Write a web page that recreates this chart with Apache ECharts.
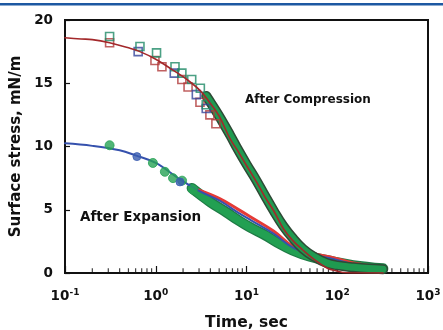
<!DOCTYPE html>
<html><head><meta charset="utf-8">
<script src="https://cdn.jsdelivr.net/npm/echarts@6/dist/echarts.min.js"></script>
<style>html,body{margin:0;padding:0;background:#fff}#c{width:443px;height:330px}</style>
</head><body><div id="c"></div>
<script>
// ---- data ----
const xMajorTicks = [0.1, 1, 10, 100, 1000];
const xTickExponents = ['-1','0','1','2','3'];
const xMinorTicks = [0.2,0.3,0.4,0.5,0.6,0.7,0.8,0.9,2,3,4,5,6,7,8,9,20,30,40,50,60,70,80,90,200,300,400,500,600,700,800,900];
const yTicks = [0, 5, 10, 15, 20];

// After compression: fitted curve
const compFit = [[0.1,18.6],[0.15,18.5],[0.2,18.45],[0.31,18.2],[0.5,17.8],[0.67,17.5],[1.0,16.9],[1.5,16.1],[2.2,15.3],[3.1,14.4],[4.0,13.4],[5.0,12.4],[6.6,10.6],[8.1,9.6],[10,8.5],[12.9,7.2],[16,6.0],[20,4.9],[25.5,3.5],[32,2.6],[42,1.8],[55,1.1],[77,0.4],[100,0.15],[126,0.02],[180,0],[320,0]];
// After compression: dense measured band
const compBand = [[3.6,14.0],[4,13.5],[5,12.4],[6.6,10.9],[8,9.8],[10,8.6],[12.9,7.3],[16,6.1],[20,4.9],[25.5,3.7],[32,2.8],[42,1.9],[55,1.3],[76,0.8],[100,0.6],[150,0.45],[220,0.35],[320,0.3]];
// After compression: open squares (three runs)
const compRed = [[0.31,18.2],[0.98,16.8],[1.17,16.3],[1.94,15.3],[2.27,14.7],[3.07,13.5],[3.95,12.5],[4.6,11.8]];
const compBlue = [[0.64,17.5],[1.6,15.8],[2.8,14.1],[3.6,13.0]];
const compTeal = [[0.31,18.7],[0.67,17.9],[1.02,17.4],[1.63,16.3],[1.94,15.8],[2.49,15.3],[3.1,14.6],[3.6,13.3]];

// After expansion
const expBlueFit = [[0.1,10.25],[0.2,10.05],[0.4,9.7],[0.6,9.3],[1.0,8.7],[1.85,7.4],[3,6.5],[5.1,5.7],[8,4.8],[11,4.2],[20,3.1],[32.5,2.0],[50,1.5],[90,1.1],[150,0.7],[320,0.35]];
const expRedFit = [[3,6.55],[5,5.9],[8,5.05],[11,4.45],[20,3.3],[32.5,2.1],[50,1.6],[90,1.2],[150,0.8],[320,0.45]];
const expBand = [[2.5,6.7],[4,5.6],[6,4.8],[8,4.2],[11,3.6],[16,3.0],[22,2.4],[32,1.8],[50,1.3],[90,0.9],[150,0.6],[320,0.35]];
const expGreenDots = [[0.31,10.1],[0.93,8.7],[1.26,8.0],[1.55,7.5],[1.95,7.3],[2.56,6.6]];
const expBlueDots = [[0.62,9.2],[1.85,7.2]];

const FONT = 'DejaVu Sans';
const supMap = {};
xMajorTicks.forEach((v,i)=>{ supMap[v] = xTickExponents[i]; });

const chart = echarts.init(document.getElementById('c'), null, {renderer:'canvas'});
function line(data, color, width, z){
  return {type:'line', data, showSymbol:false, symbol:'none', smooth:0.4,
    lineStyle:{color, width, cap:'round', join:'round'}, z, silent:true, animation:false};
}
function pts(data, symbol, color, size, filled, z){
  return {type:'scatter', data, symbol, symbolSize:size, z, animation:false, silent:true,
    itemStyle: filled ? {color, borderColor:color} : {color:'rgba(0,0,0,0)', borderColor:color, borderWidth:1.6}};
}
chart.setOption({
  animation:false,
  grid:{left:65, right:15, top:20, bottom:57, containLabel:false, outerBoundsMode:'none',
    show:true, borderColor:'#111', borderWidth:2, backgroundColor:'transparent'},
  graphic:[
    {type:'rect', left:0, top:3, shape:{width:443, height:2.5}, style:{fill:'#1d58a2'}},
    {type:'text', left:245, top:94, style:{text:'After Compression', font:'bold 12px "DejaVu Sans"', fill:'#111'}, z:100},
    {type:'text', left:80, top:210, style:{text:'After Expansion', font:'bold 13.5px "DejaVu Sans"', fill:'#111'}, z:100}
  ],
  xAxis:{
    type:'log', logBase:10, min:0.1, max:1000, position:'bottom',
    name:'Time, sec', nameLocation:'middle', nameGap:42,
    nameTextStyle:{fontFamily:FONT, fontWeight:'bold', fontSize:15.5, color:'#111'},
    axisLine:{show:true, lineStyle:{color:'#111', width:2}},
    axisTick:{show:true, inside:true, length:7, lineStyle:{color:'#111', width:1.2}},
    splitLine:{show:false}, minorTick:{show:false},
    axisLabel:{margin:15, color:'#111',
      formatter:(v)=>'{b|10}{s|'+supMap[v]+'}',
      rich:{b:{fontFamily:FONT, fontWeight:'bold', fontSize:13.5, lineHeight:16, color:'#111'},
            s:{fontFamily:FONT, fontWeight:'bold', fontSize:9, lineHeight:10, verticalAlign:'top', color:'#111'}}}
  },
  yAxis:{
    type:'value', min:0, max:20, interval:5,
    name:'Surface stress, mN/m', nameLocation:'middle', nameGap:36,
    nameTextStyle:{fontFamily:FONT, fontWeight:'bold', fontSize:15, color:'#111'},
    axisLine:{show:true, lineStyle:{color:'#111', width:2}},
    axisTick:{show:true, inside:true, length:5, lineStyle:{color:'#111', width:1.2}},
    splitLine:{show:false},
    axisLabel:{margin:12, fontFamily:FONT, fontWeight:'bold', fontSize:13.5, color:'#111'}
  },
  series:[
    {type:'scatter', data:xMinorTicks.map(v=>[v,0]), symbol:'rect', symbolSize:[1.2,4.5], symbolOffset:[0,-2.5],
      itemStyle:{color:'#111'}, z:1, silent:true, animation:false},
    line(expBand, '#1f7a45', 10.5, 2),
    line(expBand, '#22a052', 8, 3),
    line(expRedFit, '#e53a36', 3, 4),
    line(expBlueFit, '#3551ad', 2, 5),
    pts(expGreenDots, 'circle', '#27a255', 9, true, 6),
    pts(expBlueDots, 'circle', '#3a5cb0', 8, true, 6),
    line(compBand, '#2e4a36', 10, 7),
    line(compBand, '#1f9a50', 7, 8),
    pts(compRed, 'rect', '#b03a3a', 8, false, 9),
    pts(compBlue, 'rect', '#33449a', 8, false, 9),
    pts(compTeal, 'rect', '#1f8a66', 8, false, 9),
    line(compFit, '#a3282a', 1.6, 10)
  ]
});
</script></body></html>
